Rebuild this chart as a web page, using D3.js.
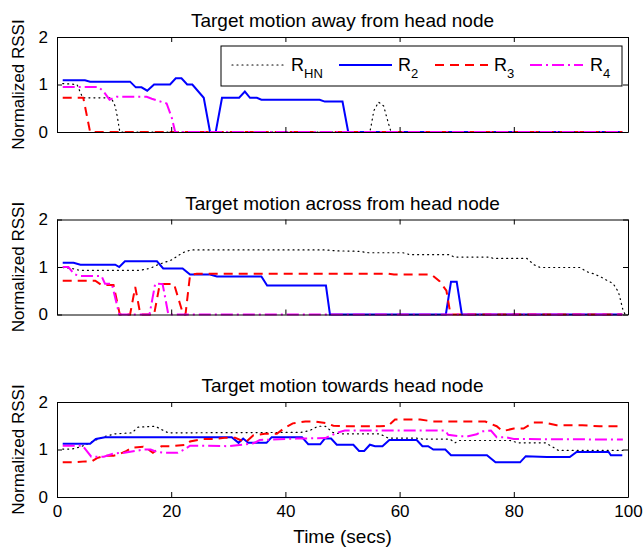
<!DOCTYPE html>
<html>
<head>
<meta charset="utf-8">
<script src="https://cdn.jsdelivr.net/npm/d3@7"></script>
<style>
  body { margin: 0; background: #fff; }
  text { font-family: "Liberation Sans", Arial, Helvetica, sans-serif; }
</style>
</head>
<body>
<svg width="644" height="548"></svg>
<script>
var svg = d3.select('svg');

// tick values
var xTicks = [0, 20, 40, 60, 80, 100];
var yTicks = [0, 1, 2];

var titles = ['Target motion away from head node',
              'Target motion across from head node',
              'Target motion towards head node'];

// [time, normalized rssi]
var awayHN = [[1,1.02],[3.5,1.0],[4.5,0.72],[9.5,0.72],[10.2,0.54],[10.6,0.3],[11,0],[54.8,0],[55.5,0.45],[56.3,0.63],[57.2,0.55],[58,0.2],[58.5,0],[99,0]];
var away2 = [[1,1.09],[4.9,1.09],[5.8,1.06],[12.8,1.06],[13.8,0.94],[14.8,0.94],[15.8,0.87],[17,1.0],[19.8,1.0],[20.8,1.13],[21.8,1.13],[22.8,1.0],[23.7,1.0],[25.7,0.72],[26.8,0],[27.8,0],[28.9,0.72],[31.9,0.72],[32.9,0.85],[33.8,0.72],[35,0.72],[35.8,0.68],[46,0.68],[46.9,0.64],[50,0.64],[51,0],[99,0]];
var away3 = [[1,0.72],[4.6,0.72],[5.8,0],[99,0]];
var away4 = [[1,0.95],[7.2,0.95],[8.1,0.86],[9.2,0.68],[10.4,0.74],[15.7,0.74],[16.6,0.7],[19.2,0.6],[20.1,0.3],[20.7,0],[99,0]];

var acrossHN = [[1,0.99],[2.5,0.97],[4,0.93],[14.5,0.93],[16.3,0.97],[17.7,1.05],[18.9,1.1],[20.1,1.15],[21.2,1.24],[22.4,1.32],[23.5,1.36],[47,1.36],[49,1.34],[53,1.33],[54.5,1.3],[60.6,1.3],[61.8,1.26],[68.8,1.26],[69.5,1.21],[75.8,1.21],[76.4,1.18],[82.3,1.18],[83.5,1.05],[84.6,0.99],[91.6,0.99],[92.8,0.9],[93.9,0.86],[95.1,0.8],[96.3,0.72],[97.4,0.65],[98.3,0.48],[98.6,0.35],[99.1,0.1],[99.5,0]];
var across2 = [[1,1.09],[2.9,1.09],[4.1,1.05],[10.2,1.05],[10.9,1.0],[11.9,1.12],[17.5,1.12],[18.6,0.97],[22,0.97],[23.3,0.84],[26.8,0.84],[28,0.8],[35.8,0.8],[36.8,0.61],[47.1,0.61],[47.8,0],[68.1,0],[69,0.69],[70,0.69],[70.9,0],[99,0]];
var across3 = [[1,0.71],[6.7,0.71],[7.8,0.62],[9.9,0.62],[11,0],[12.8,0],[13.7,0.58],[14.6,0],[17,0],[18,0.64],[20.5,0.64],[22.1,0],[22.5,0],[23.3,0.83],[24.5,0.86],[58,0.86],[59,0.84],[65.6,0.84],[67,0.7],[68.2,0.5],[68.8,0.08],[69.2,0],[99,0]];
var across4 = [[1,1.0],[2,1.0],[3,0.85],[4,0.81],[7.8,0.81],[8.4,0.65],[9.6,0.65],[10.9,0],[16.2,0],[17.2,0.65],[18.5,0.64],[19.5,0],[99,0]];

var towardsHN = [[1,1.01],[2.6,1.01],[4,1.05],[5.6,1.13],[6.8,1.2],[8.5,1.28],[10.2,1.33],[13.1,1.35],[14.2,1.47],[17.2,1.49],[18.3,1.42],[19.5,1.35],[42.7,1.36],[44.3,1.4],[45.7,1.49],[47,1.49],[48.3,1.36],[49.6,1.33],[56.5,1.33],[58,1.24],[63,1.24],[64,1.22],[68.8,1.22],[69.7,1.14],[70.5,1.19],[79.3,1.19],[80.8,1.14],[85.5,1.14],[86.6,1.07],[87.8,0.98],[99.1,0.98]];
var towards2 = [[1,1.12],[5.8,1.12],[6.8,1.22],[8.4,1.26],[30.6,1.26],[31.8,1.14],[32.6,1.23],[33.5,1.14],[36.7,1.14],[37.6,1.26],[42.9,1.26],[44,1.11],[46.1,1.11],[46.9,1.23],[48,1.23],[49,1.1],[51.9,1.1],[52.9,0.97],[53.8,0.97],[54.8,1.1],[55.7,1.07],[57,1.07],[58.2,1.2],[63,1.2],[64,1.07],[65,1.07],[65.9,1.0],[68,1.0],[69,0.88],[75.3,0.88],[76.8,0.73],[81.1,0.73],[82.1,0.86],[85.8,0.84],[89.8,0.84],[91,0.95],[96.6,0.95],[97,0.88],[99,0.88]];
var towards3 = [[1,0.73],[3,0.73],[5,0.75],[6.1,0.75],[7,0.82],[8.4,0.87],[9.9,0.87],[10.7,0.89],[12.2,0.97],[13.1,1.04],[15.1,1.06],[16,1.0],[16.8,0.93],[18.3,1.07],[20.1,1.07],[22.7,1.1],[23.3,1.17],[25.6,1.22],[27.7,1.22],[29.7,1.25],[31.2,1.25],[33,1.15],[34.4,1.3],[36.4,1.33],[38.5,1.33],[39.8,1.45],[41.3,1.55],[43.5,1.59],[45.2,1.59],[47.3,1.55],[48.4,1.5],[50.7,1.49],[56.5,1.49],[58,1.5],[59.2,1.63],[63.6,1.63],[65.9,1.59],[75,1.59],[77,1.49],[77.9,1.4],[78.5,1.4],[80,1.44],[81.7,1.44],[83.4,1.57],[85.2,1.57],[87.5,1.51],[92,1.51],[95,1.49],[99,1.49]];
var towards4 = [[1,1.08],[4.5,1.08],[6,0.85],[8.2,0.85],[10,0.92],[11.8,0.93],[13.7,0.97],[15.3,1.0],[16.4,1.0],[17.5,0.95],[18.8,0.93],[21.1,0.93],[22.3,1.0],[23.3,1.08],[25.6,1.08],[30,1.07],[32.6,1.1],[34.4,1.13],[35.5,1.2],[42,1.23],[47,1.24],[49,1.35],[50.4,1.4],[68,1.4],[68.5,1.31],[70.3,1.28],[72,1.28],[73.5,1.32],[74.3,1.38],[76,1.4],[77,1.26],[78.5,1.26],[80,1.22],[99.1,1.21]];

var seriesNames = ['R_HN', 'R_2', 'R_3', 'R_4'];
var panels = [
  [awayHN, away2, away3, away4],
  [acrossHN, across2, across3, across4],
  [towardsHN, towards2, towards3, towards4]
];

var styles = [
  {color: '#000000', width: 1.2, dash: '1,4'},
  {color: '#0000ff', width: 2, dash: null},
  {color: '#ff0000', width: 2, dash: '9,6'},
  {color: '#ff00ff', width: 2, dash: '12,4,2,4'}
];

var left = 57, right = 628, ph = 95;
var tops = [37, 219.5, 402];

var x = d3.scaleLinear().domain([0, 100]).range([left, right]);

panels.forEach(function(panel, p) {
  var top = tops[p];
  var y = d3.scaleLinear().domain([0, 2]).range([top + ph, top]);
  var g = svg.append('g');

  var line = d3.line()
    .x(function(d) { return x(d[0]); })
    .y(function(d) { return y(d[1]); });

  panel.forEach(function(s, i) {
    g.append('path')
      .datum(s)
      .attr('d', line)
      .attr('fill', 'none')
      .attr('stroke', styles[i].color)
      .attr('stroke-width', styles[i].width)
      .attr('stroke-dasharray', styles[i].dash)
      .attr('stroke-linecap', i == 0 ? 'round' : 'butt');
  });

  var bottomAxis = g.append('g')
    .attr('transform', 'translate(0,' + (top + ph) + ')')
    .call(d3.axisBottom(x).tickValues(xTicks).tickFormat(d3.format('d'))
      .tickSizeInner(-5).tickSizeOuter(0).tickPadding(8));
  if (p < 2) bottomAxis.selectAll('text').remove();
  g.append('g')
    .attr('transform', 'translate(0,' + top + ')')
    .call(d3.axisTop(x).tickValues(xTicks).tickSizeInner(-5).tickSizeOuter(0))
    .selectAll('text').remove();
  g.append('g')
    .attr('transform', 'translate(' + left + ',0)')
    .call(d3.axisLeft(y).tickValues(yTicks).tickFormat(d3.format('d'))
      .tickSizeInner(-5).tickSizeOuter(0).tickPadding(9));
  g.append('g')
    .attr('transform', 'translate(' + right + ',0)')
    .call(d3.axisRight(y).tickValues(yTicks).tickSizeInner(-5).tickSizeOuter(0))
    .selectAll('text').remove();

  g.selectAll('.tick text')
    .style('font-size', '17px')
    .attr('fill', '#000');
  g.selectAll('.domain, .tick line').attr('stroke', '#000');

  g.append('text')
    .attr('x', (left + right) / 2)
    .attr('y', top - 10)
    .attr('text-anchor', 'middle')
    .style('font-size', '19px')
    .text(titles[p]);

  g.append('text')
    .attr('transform', 'translate(24,' + (top + ph / 2) + ') rotate(-90)')
    .attr('text-anchor', 'middle')
    .style('font-size', '17px')
    .text('Normalized RSSI');
});

svg.append('text')
  .attr('x', (left + right) / 2)
  .attr('y', 543)
  .attr('text-anchor', 'middle')
  .style('font-size', '19px')
  .text('Time (secs)');

// legend
var leg = svg.append('g');
leg.append('rect')
  .attr('x', 221).attr('y', 46)
  .attr('width', 401).attr('height', 40)
  .attr('fill', '#fff').attr('stroke', '#000').attr('stroke-width', 1);

var legX = [232, 339, 435, 530];
seriesNames.forEach(function(n, i) {
  var x0 = legX[i];
  leg.append('line')
    .attr('x1', x0).attr('x2', x0 + 53)
    .attr('y1', 65).attr('y2', 65)
    .attr('stroke', styles[i].color)
    .attr('stroke-width', styles[i].width)
    .attr('stroke-dasharray', styles[i].dash)
    .attr('stroke-linecap', i == 0 ? 'round' : 'butt');
  var parts = n.split('_');
  var t = leg.append('text')
    .attr('x', i == 3 ? x0 + 60 : x0 + 59)
    .attr('y', 71)
    .style('font-size', '18px');
  t.append('tspan').text(parts[0]);
  t.append('tspan').attr('dy', 7).style('font-size', '13px').text(parts[1]);
});
</script>
</body>
</html>
